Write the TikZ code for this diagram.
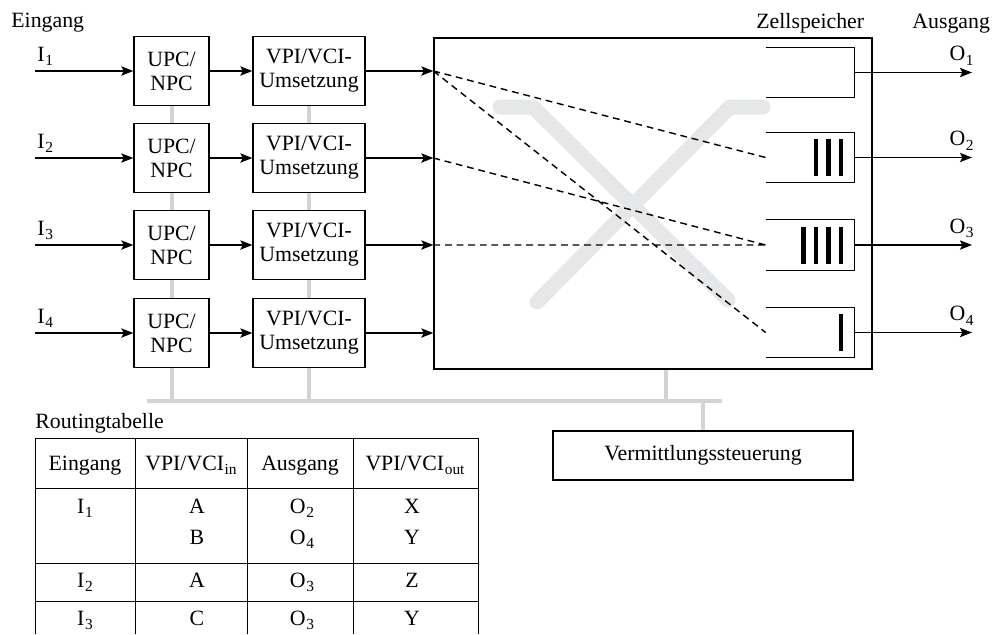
\documentclass[tikz,border=0pt]{standalone}
\usepackage{fontspec}
\setmainfont{Liberation Serif}
\usetikzlibrary{arrows.meta,calc}
\definecolor{BusGray}{HTML}{D1D3D4}
\definecolor{CrossGray}{HTML}{E6E7E8}
\newcommand{\sbs}[1]{\kern.3pt\raisebox{-2.2pt}{\fontsize{7.7}{8}\selectfont#1}}

\begin{document}
\begin{tikzpicture}[x=0.5pt,y=-0.5pt,font=\fontsize{10.9}{12}\selectfont,
  box/.style={draw,line width=0.6pt,align=center,inner sep=0pt,minimum height=34.5pt},
  arr/.style={-{Stealth[length=6pt,width=4.6pt,inset=1.2pt]},line width=0.9pt},
  bus/.style={BusGray,line width=2pt},
  link/.style={dash pattern=on 3.4pt off 2.4pt,line width=0.7pt},
  bar/.style={line width=2.2pt},
  lbl/.style={inner sep=0pt},
  cell/.style={anchor=base,inner sep=0pt}]
  \useasboundingbox (0,0) rectangle (995,634);
  \node[lbl,anchor=base west] (ein) at (11,27) {Eingang};
  \node[lbl,anchor=base west] (zsp) at (756,28) {Zellspeicher};
  \node[lbl,anchor=base west] (aus) at (912,28) {Ausgang};
  \draw[CrossGray,line width=7.5pt,line cap=round,line join=round] (500,107)--(533,107)--(728,300) (537,302)--(730,107)--(763,107);
  \node[draw,line width=0.6pt,minimum width=219pt,minimum height=165.5pt,inner sep=0pt] (sw) at (653,203.5) {};
  \foreach \i/\y in {1/71,2/158,3/245,4/333}{
    \coordinate (in\i) at (35,\y);
    \node[box,minimum width=37.5pt] (upc\i) at (171.5,\y) {UPC/\\NPC};
    \node[box,minimum width=56pt] (vpi\i) at (309,\y) {VPI/VCI-\\Umsetzung};
    \coordinate (sw\i) at (sw.west |- vpi\i);
    \node[anchor=south west,inner sep=1pt] (il\i) at ($(in\i)+(0,-3)$) {I\sbs{\i}};
    \draw[arr] (in\i)--(upc\i); \draw[arr] (upc\i)--(vpi\i); \draw[arr] (vpi\i)--(sw\i);
  }
  \foreach \i/\y in {1/72.5,2/157.5,3/245,4/332.5}{
    \node[minimum width=44pt,minimum height=25pt,inner sep=0pt] (q\i) at (810,\y) {};
    \draw[line width=0.5pt] (q\i.north west)--(q\i.north east)--(q\i.south east)--(q\i.south west);
    \coordinate (out\i) at (972,\y);
    \draw[arr] (q\i.east)--(out\i);
    \node[anchor=south east,inner sep=1pt] (ol\i) at ($(out\i)+(4,-5)$) {O\sbs{\i}};
  }
  \foreach \i/\n in {2/3,3/4,4/1}
    \foreach \k in {1,...,\n}
      \draw[bar] ($(q\i.east)+(-1-12.5*\k,-18.5)$)--++(0,37);
  \draw[link] (sw1)--(q2.west) (sw1)--(q4.west) (sw2)--(q3.west) (sw3)--(q3.west);
  \coordinate (busL) at (147,401);\coordinate (busR) at (722,401);
  \coordinate (swb) at ($(sw.south west)!.53!(sw.south east)$);
  \node[box,minimum width=150pt,minimum height=24.5pt] (vs) at (703,455.5) {Vermittlungssteuerung};
  \draw[bus] (busL)--(busR);
  \draw[bus] (upc1)--(upc2) (upc2)--(upc3) (upc3)--(upc4) (upc4)--(upc4 |- busL);
  \draw[bus] (vpi1)--(vpi2) (vpi2)--(vpi3) (vpi3)--(vpi4) (vpi4)--(vpi4 |- busL);
  \draw[bus] (swb)--(swb |- busL) (vs)--(vs |- busL);
  \node[lbl,anchor=base west] (rt) at (35,428) {Routingtabelle};
  \foreach \x in {35,135,247,353,478} \draw[line width=0.5pt] (\x,438)--(\x,634);
  \foreach \y in {438,488,563,601} \draw[line width=0.5pt] (35,\y)--(478,\y);
  \node[cell] (h1) at (85,470) {Eingang};\node[cell] (h2) at (191,470) {VPI/VCI\sbs{in}};
  \node[cell] (h3) at (300,470) {Ausgang};\node[cell] (h4) at (415,470) {VPI/VCI\sbs{out}};
  \node[cell] (r1a) at (85,513) {I\sbs{1}};\node[cell] (r1b) at (197,513) {A};\node[cell] (r1c) at (302,513) {O\sbs{2}};\node[cell] (r1d) at (412,513) {X};
  \node[cell] (r2b) at (197,544) {B};\node[cell] (r2c) at (302,544) {O\sbs{4}};\node[cell] (r2d) at (412,544) {Y};
  \node[cell] (r3a) at (85,587) {I\sbs{2}};\node[cell] (r3b) at (197,587) {A};\node[cell] (r3c) at (302,587) {O\sbs{3}};\node[cell] (r3d) at (412,587) {Z};
  \node[cell] (r4a) at (85,625) {I\sbs{3}};\node[cell] (r4b) at (197,625) {C};\node[cell] (r4c) at (302,625) {O\sbs{3}};\node[cell] (r4d) at (412,625) {Y};
\end{tikzpicture}
\end{document}
